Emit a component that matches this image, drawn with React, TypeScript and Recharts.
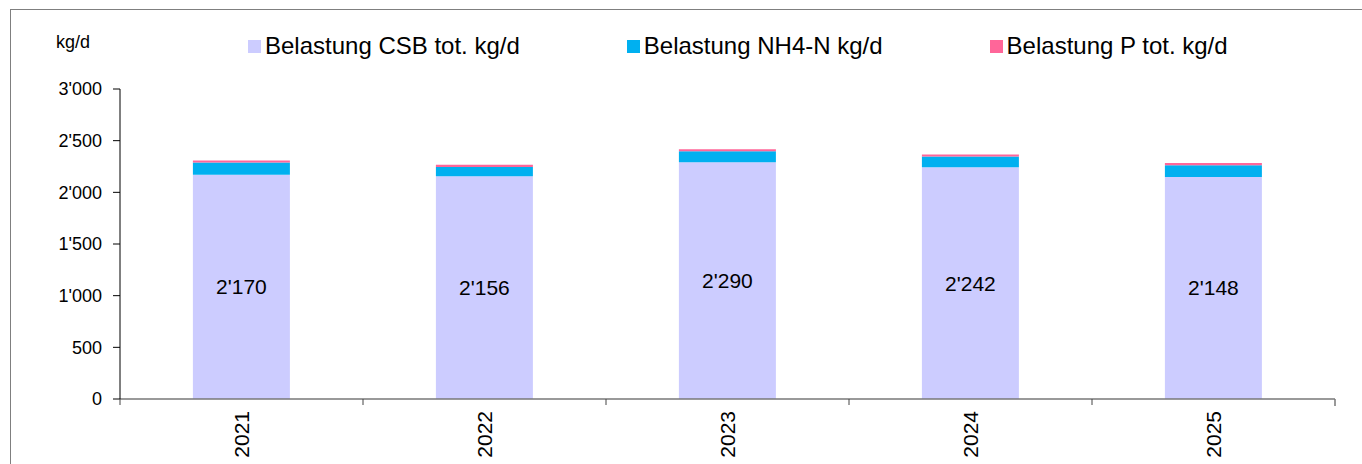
import { BarChart, Bar, XAxis, YAxis, LabelList } from 'recharts'

const years = ['2021', '2022', '2023', '2024', '2025']
const csb = [2170, 2156, 2290, 2242, 2148]
const nh4 = [118, 88, 108, 104, 115]
const ptot = [20, 24, 20, 20, 22]
const yTicks = [0, 500, 1000, 1500, 2000, 2500, 3000]

const seriesNames = ['Belastung CSB tot. kg/d', 'Belastung NH4-N kg/d', 'Belastung P tot. kg/d']
const colors = ['#CCCCFF', '#00B0F0', '#FF6699']

const data = years.map((y, i) => ({ year: y, csb: csb[i], nh4: nh4[i], p: ptot[i] }))

const W = 1362
const H = 464
const margin = { top: 89, right: 27, bottom: 5, left: 0 }
const Y_W = 120
const plotW = W - margin.left - margin.right - Y_W
const band = plotW / years.length

const fmt = (v: any) => String(v).replace(/\B(?=(\d{3})+(?!\d))/g, "'")

const XTick = (props: any) => {
  const { x, y, payload, index } = props
  const axisY = y - 8
  return (
    <g>
      <line x1={x - band / 2} x2={x - band / 2} y1={axisY} y2={axisY + 6} stroke="#444" />
      {index === years.length - 1 && (
        <line x1={x + band / 2} x2={x + band / 2} y1={axisY} y2={axisY + 7} stroke="#777" strokeWidth={1.5} />
      )}
      <text
        x={x}
        y={axisY + 12}
        transform={`rotate(-90, ${x}, ${axisY + 12})`}
        textAnchor="end"
        dominantBaseline="central"
        fontSize={21}
        fill="#000"
      >
        {payload.value}
      </text>
    </g>
  )
}

export default function App() {
  return (
    <div style={{ position: 'absolute', left: 0, top: 0, width: W, height: H, overflow: 'hidden', background: '#fff', fontFamily: '"Liberation Sans", Arial, sans-serif' }}>
      <div style={{ position: 'absolute', left: 10, top: 9, width: 1400, height: 500, border: '1.5px solid #7f7f7f', boxSizing: 'border-box' }} />
      <div style={{ position: 'absolute', left: 56, top: 32, fontSize: 18, color: '#000' }}>kg/d</div>
      <div style={{ position: 'absolute', left: 248, top: 32, display: 'flex', alignItems: 'center', fontSize: 24, color: '#000', whiteSpace: 'nowrap' }}>
        {seriesNames.map((n, i) => (
          <div key={n} style={{ display: 'flex', alignItems: 'center', marginRight: 107 }}>
            <span style={{ width: 13, height: 13, background: colors[i], display: 'inline-block', marginRight: 4 }} />
            <span>{n}</span>
          </div>
        ))}
      </div>
      <BarChart width={W} height={H} data={data} margin={margin} barCategoryGap="30%" style={{ position: 'absolute', left: 0, top: 0 }}>
        <XAxis
          dataKey="year"
          height={60}
          tickLine={false}
          tick={<XTick />}
          axisLine={{ stroke: '#777', strokeWidth: 1.5 }}
          interval={0}
        />
        <YAxis
          width={Y_W}
          domain={[0, 3000]}
          ticks={yTicks}
          tickFormatter={fmt}
          tickSize={7}
          tickMargin={11}
          axisLine={{ stroke: '#000' }}
          tickLine={{ stroke: '#000' }}
          tick={{ fontSize: 18, fill: '#000' }}
        />
        <Bar dataKey="csb" stackId="a" fill={colors[0]} isAnimationActive={false}>
          <LabelList dataKey="csb" position="center" formatter={fmt} style={{ fontSize: 21, fill: '#000' }} />
        </Bar>
        <Bar dataKey="nh4" stackId="a" fill={colors[1]} isAnimationActive={false} />
        <Bar dataKey="p" stackId="a" fill={colors[2]} isAnimationActive={false} />
      </BarChart>
    </div>
  )
}
